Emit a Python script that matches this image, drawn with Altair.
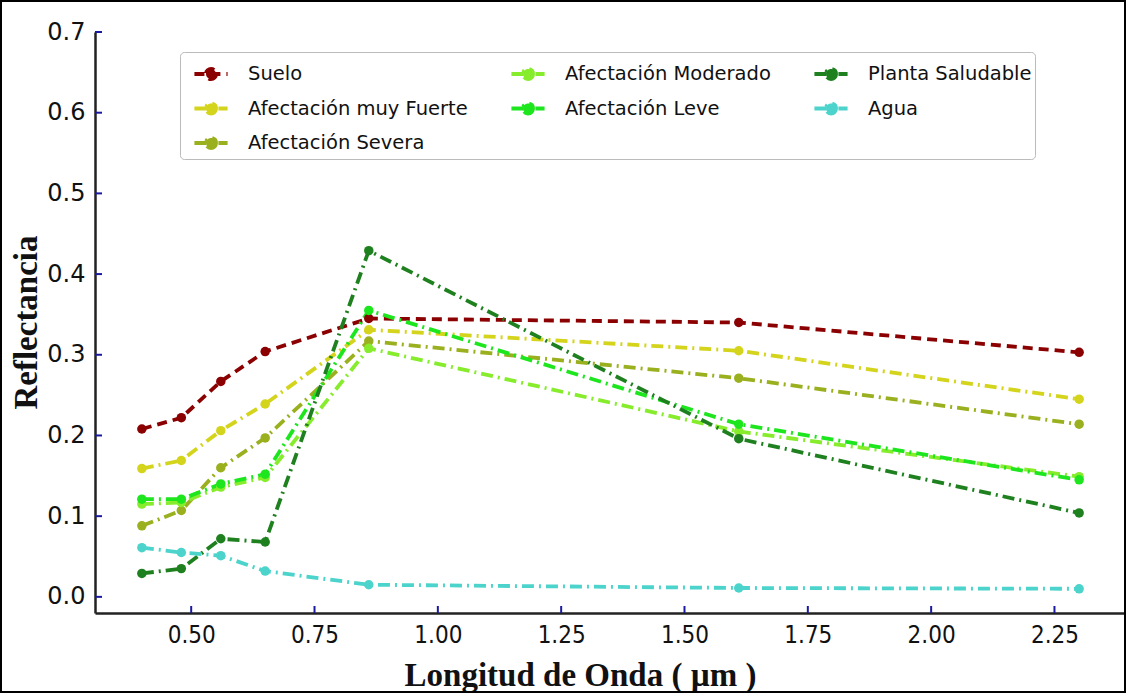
import altair as alt
import pandas as pd

wavelength = [0.40, 0.48, 0.56, 0.65, 0.86, 1.61, 2.30]
suelo = [0.208, 0.222, 0.267, 0.304, 0.345, 0.340, 0.303]
muy_fuerte = [0.159, 0.169, 0.206, 0.239, 0.331, 0.305, 0.245]
severa = [0.088, 0.107, 0.160, 0.197, 0.317, 0.271, 0.214]
moderado = [0.115, 0.117, 0.136, 0.148, 0.308, 0.205, 0.149]
leve = [0.121, 0.121, 0.140, 0.152, 0.355, 0.214, 0.145]
saludable = [0.029, 0.035, 0.072, 0.068, 0.429, 0.196, 0.104]
agua = [0.061, 0.055, 0.051, 0.032, 0.015, 0.011, 0.010]

series_names = ["Suelo", "Afectación muy Fuerte", "Afectación Severa",
                "Afectación Moderado", "Afectación Leve", "Planta Saludable", "Agua"]
series_values = [suelo, muy_fuerte, severa, moderado, leve, saludable, agua]
series_colors = ["#8B0000", "#D4D41C", "#9BB01E", "#86EC2C", "#1EE61E", "#1E801E", "#4CD4CC"]
dash_dot = [12, 5, 2, 5]
series_dashes = [[10, 6], dash_dot, dash_dot, dash_dot, dash_dot, dash_dot, dash_dot]

# legend order (row-wise filling for 3 columns reproduces column-wise layout)
legend_order = ["Suelo", "Afectación Moderado", "Planta Saludable",
                "Afectación muy Fuerte", "Afectación Leve", "Agua",
                "Afectación Severa"]
order_colors = [series_colors[series_names.index(n)] for n in legend_order]
order_dashes = [series_dashes[series_names.index(n)] for n in legend_order]

x_ticks = [0.50, 0.75, 1.00, 1.25, 1.50, 1.75, 2.00, 2.25]
y_ticks = [0.0, 0.1, 0.2, 0.3, 0.4, 0.5, 0.6, 0.7]

rows = []
for name, vals in zip(series_names, series_values):
    for w, v in zip(wavelength, vals):
        rows.append({"serie": name, "wl": w, "r": v})
df = pd.DataFrame(rows)

W, H = 1031, 581

xscale = alt.Scale(domain=[0.305, 2.395], nice=False, zero=False)
yscale = alt.Scale(domain=[-0.02, 0.7], nice=False, zero=False)
cscale = alt.Scale(domain=legend_order, range=order_colors)

legend = alt.Legend(title=None, orient="none", legendX=85, legendY=20,
                    columns=3, direction="horizontal",
                    labelFont="DejaVu Sans", labelFontSize=19.5, labelColor="#111",
                    symbolType="M-1,0H1M0.3,0A0.3,0.3,0,1,1,-0.3,0A0.3,0.3,0,1,1,0.3,0Z",
                    symbolSize=1100, symbolStrokeWidth=4, symbolOffset=9,
                    labelOffset=18, rowPadding=2.5, columnPadding=32,
                    padding=3, fillColor="white", strokeColor="#bbb",
                    cornerRadius=4, labelLimit=400)

color = alt.Color("serie:N", scale=cscale, legend=legend)
dash = alt.StrokeDash("serie:N", scale=alt.Scale(domain=legend_order, range=order_dashes),
                      legend=legend)

xenc = alt.X("wl:Q", scale=xscale,
             axis=alt.Axis(values=x_ticks, format=".2f", title="Longitud de Onda ( µm )",
                           grid=False, ticks=False, domainColor="#222", domainWidth=2.5,
                           labelFont="DejaVu Sans Condensed, Liberation Sans Narrow, DejaVu Sans",
                           labelFontSize=24, labelColor="#111", labelPadding=10,
                           titleFont="Liberation Serif", titleFontWeight="bold", titleFontSize=33,
                           titleColor="#111", titleX=485, titleY=46, titleAnchor="middle"))
yenc = alt.Y("r:Q", scale=yscale,
             axis=alt.Axis(values=y_ticks, format=".1f", title="Reflectancia",
                           grid=False, ticks=False, domainColor="#222", domainWidth=2.5,
                           labelFont="DejaVu Sans", labelFontSize=24, labelColor="#111",
                           labelPadding=10,
                           titleFont="Liberation Serif", titleFontWeight="bold", titleFontSize=33,
                           titleColor="#111", titleX=-52, titleY=290))

lines = alt.Chart(df).mark_line(strokeWidth=3.8).encode(x=xenc, y=yenc, color=color, strokeDash=dash)
points = alt.Chart(df).mark_circle(size=90, opacity=1).encode(
    x=alt.X("wl:Q", scale=xscale), y=alt.Y("r:Q", scale=yscale),
    color=alt.Color("serie:N", scale=cscale, legend=legend))

xt = alt.Chart(pd.DataFrame({"t": x_ticks})).mark_rule(color="#1a1aa0", strokeWidth=2).encode(
    x=alt.X("t:Q", scale=xscale), y=alt.value(H), y2=alt.value(H - 7))
yt = alt.Chart(pd.DataFrame({"t": y_ticks})).mark_rule(color="#1a1aa0", strokeWidth=2).encode(
    y=alt.Y("t:Q", scale=yscale), x=alt.value(0), x2=alt.value(7))

frame = alt.Chart(pd.DataFrame({"a": [0]})).mark_rect(fill=None, stroke="black", strokeWidth=2, clip=False).encode(
    x=alt.value(-94), x2=alt.value(W - 1), y=alt.value(-31), y2=alt.value(H + 79))

chart = alt.layer(lines, points, xt, yt, frame).properties(
    width=W, height=H,
    padding={"left": 95, "top": 32, "right": 0, "bottom": 80},
    autosize=alt.AutoSizeParams(type="none"),
    background="white",
).configure_view(stroke=None)

chart.save("out.html", embed_options={"renderer": "svg", "actions": False})
